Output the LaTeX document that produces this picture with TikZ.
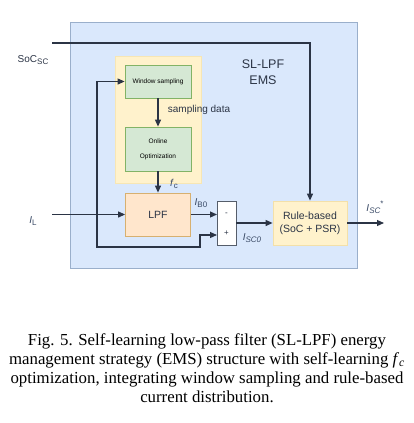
\documentclass[tikz,border=0pt]{standalone}
\usepackage{fontspec}
\setmainfont{Liberation Serif}
\setsansfont{Liberation Sans}
\usetikzlibrary{arrows.meta,calc}
\definecolor{bluefill}{HTML}{DAE8FC}
\definecolor{bluedraw}{HTML}{9AAFCB}
\definecolor{yelfill}{HTML}{FFF2CC}
\definecolor{yeldraw}{HTML}{D6B656}
\definecolor{grnfill}{HTML}{D5E8D4}
\definecolor{grndraw}{HTML}{82B366}
\definecolor{orgfill}{HTML}{FFE6CC}
\definecolor{orgdraw}{HTML}{D7B070}
\definecolor{linec}{HTML}{2B3445}
\definecolor{labc}{HTML}{3A4A66}
\newcommand\mysub[1]{\raisebox{-0.35ex}{\fontsize{8}{9}\selectfont #1}}
\newcommand\mysup[1]{\raisebox{0.9ex}{\fontsize{8}{9}\selectfont #1}}
\tikzset{
  boxbase/.style={rectangle,inner sep=0pt,align=center,font=\sffamily},
  greenbox/.style={boxbase,fill=grnfill,draw=grndraw,line width=0.8pt,font=\sffamily\fontsize{6.5}{10}\selectfont},
  conn/.style={draw=linec,line width=1.1pt,-{Triangle[length=7pt,width=6pt]}},
  plain/.style={draw=linec,line width=1.1pt},
  lab/.style={font=\sffamily\fontsize{10}{12}\selectfont,text=labc,inner sep=0pt},
}
\begin{document}
\begin{tikzpicture}[x=1pt,y=-1pt]
\useasboundingbox (0,0) rectangle (414,423);
\fill[white] (0,0) rectangle (414,423);
% containers
\node[boxbase,fill=bluefill,draw=bluedraw,line width=0.8pt,minimum width=287pt,minimum height=246pt] (ems) at (213.5,145) {};
\node[boxbase,fill=yelfill,draw=yelfill!80!yeldraw,line width=0.8pt,minimum width=86pt,minimum height=127pt] (learn) at (158,119.5) {};
% blocks
\node[greenbox,minimum width=66pt,minimum height=33pt] (win) at (158,81.5) {Window sampling};
\node[greenbox,minimum width=66pt,minimum height=44pt] (opt) at (158,149) {Online\\[5pt]Optimization};
\node[boxbase,fill=orgfill,draw=orgdraw,line width=0.8pt,minimum width=65pt,minimum height=43pt,font=\sffamily\fontsize{10.5}{12}\selectfont,text=linec] (lpf) at (158,214.5) {LPF};
\node[boxbase,fill=white,draw=linec!80,line width=0.8pt,minimum width=19pt,minimum height=44pt] (sum) at (226.5,223) {};
\node[boxbase,fill=yelfill,draw=yelfill!70!yeldraw,line width=0.8pt,minimum width=74pt,minimum height=44pt,font=\sffamily\fontsize{10.5}{13}\selectfont,text=linec] (rule) at (310,223) {Rule-based\\(SoC + PSR)};
% texts
\node[font=\sffamily\fontsize{12.5}{16}\selectfont,text=linec,align=center] (title) at (263,72) {SL-LPF\\EMS};
\node[font=\sffamily\fontsize{10}{11}\selectfont,text=linec,inner sep=0pt] (soclab) at (33,60) {SoC\mysub{SC}};
\node[lab] (illab) at (33,221) {\textit{I}\mysub{L}};
\node[lab,text=linec] (samplab) at (199,110) {sampling data};
\node[lab] (fclab) at (174,184) {\textit{f}\mysub{c}};
\node[lab] (ib0lab) at (201,203) {\textit{I}\mysub{B0}};
\node[lab] (isc0lab) at (252,238) {\textit{I}\mysub{\textit{SC0}}};
\node[lab] (isclab) at (375,207) {\textit{I}\mysub{\textit{SC}}\mysup{*}};
\node[font=\sffamily\fontsize{8}{9}\selectfont,text=linec] (minus) at (226.5,214) {-};
\node[font=\sffamily\fontsize{8}{9}\selectfont,text=linec] (plus) at (226.5,233) {+};
% coordinates
\coordinate (socin) at (52,43);
\coordinate (ilin) at (52,214.5);
\coordinate (branch) at (97,214.5);
\coordinate (fbbot) at (97,247);
\coordinate (fbup) at (200,247);
\coordinate (splus) at (217,235);
\coordinate (sminus) at (217,214.5);
\coordinate (out) at (384,223);
% connectors
\draw[conn] (socin) -| (rule.north);
\draw[conn] (ilin) -- (lpf.west);
\draw[conn] (branch) |- (win.west);
\draw[conn] (branch) -- (fbbot) -- (fbup) |- (splus);
\draw[conn] (win.south) -- (opt.north);
\draw[conn] (opt.south) -- (lpf.north);
\draw[conn] (lpf.east) -- (sminus);
\draw[conn] (sum.east) -- (rule.west);
\draw[conn] (rule.east) -- (out);
% caption
\node[font=\fontsize{16.8}{19.2}\selectfont,align=center,inner sep=0pt] (cap) at (207,368) {Fig. 5. Self-learning low-pass filter (SL-LPF) energy\\management strategy (EMS) structure with self-learning \textit{f}\textsubscript{\textit{c}}\\optimization, integrating window sampling and rule-based\\current distribution.};
\end{tikzpicture}
\end{document}
